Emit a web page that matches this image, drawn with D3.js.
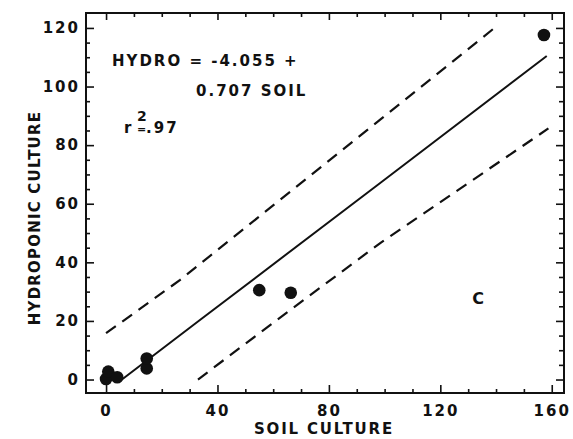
<!DOCTYPE html>
<html>
<head>
<meta charset="utf-8">
<script src="https://cdn.jsdelivr.net/npm/d3@7"></script>
<style>
  html, body { margin: 0; padding: 0; background: #fff; }
  svg text { font-family: "DejaVu Sans", "Liberation Sans", sans-serif; font-weight: bold; fill: #111; }
</style>
</head>
<body>
<svg id="chart" width="573" height="439"></svg>
<script>
// ---- data ----
const soil  = [0, 0.8, 4, 14.6, 14.6, 55, 66.3, 157.2];
const hydro = [0.2, 2.7, 0.8, 3.8, 7.2, 30.5, 29.6, 117.6];

const fitX = [5.7, 33.7, 98.3, 158.2];
const fitY = [0, 20.3, 67.0, 110.4];
const upperX = [0, 26.6, 98.3, 139.3];
const upperY = [15.8, 34.0, 88.6, 119.9];
const lowerX = [33, 61.3, 98.3, 158.8];
const lowerY = [0, 20.3, 46.5, 85.7];

const xMajor = [0, 40, 80, 120, 160];
const yMajor = [0, 20, 40, 60, 80, 100, 120];
const xMinor = [10, 20, 30, 50, 60, 70, 90, 100, 110, 130, 140, 150];
const yMinor = [5, 10, 15, 25, 30, 35, 45, 50, 55, 65, 70, 75, 85, 90, 95, 105, 110, 115];

const xTitle = "SOIL CULTURE";
const yTitle = "HYDROPONIC CULTURE";
const eqLine1 = "HYDRO = -4.055 +";
const eqLine2 = "0.707 SOIL";
const panelLabel = "C";

// ---- layout ----
const L = 86, R = 564, T = 13, B = 393;
const svg = d3.select("#chart");
const x = d3.scaleLinear().domain([-7.2, 164.4]).range([L, R]);
const y = d3.scaleLinear().domain([-4.6, 125.1]).range([B, T]);

const FS = 15, LS = "2px";

// frame
svg.append("rect").attr("x", L).attr("y", T).attr("width", R - L).attr("height", B - T)
  .attr("fill", "none").attr("stroke", "#111").attr("stroke-width", 2);

function styleAxis(g) {
  g.select(".domain").remove();
  g.selectAll(".tick line").attr("stroke", "#111").attr("stroke-width", 1.6);
  g.selectAll(".tick text").attr("font-size", FS).attr("letter-spacing", LS).attr("fill", "#111");
}

// left axis (ticks inward)
svg.append("g").attr("transform", `translate(${L},0)`)
  .call(d3.axisLeft(y).tickValues(yMajor).tickSizeInner(-8).tickSizeOuter(0).tickPadding(6).tickFormat(d3.format("d")))
  .call(styleAxis);
svg.append("g").attr("transform", `translate(${L},0)`)
  .call(d3.axisLeft(y).tickValues(yMinor).tickSizeInner(-4).tickSizeOuter(0).tickFormat(""))
  .call(styleAxis);

// bottom axis
svg.append("g").attr("transform", `translate(0,${B})`)
  .call(d3.axisBottom(x).tickValues(xMajor).tickSizeInner(-8).tickSizeOuter(0).tickPadding(12).tickFormat(d3.format("d")))
  .call(styleAxis);
svg.append("g").attr("transform", `translate(0,${B})`)
  .call(d3.axisBottom(x).tickValues(xMinor).tickSizeInner(-4).tickSizeOuter(0).tickFormat(""))
  .call(styleAxis);

// top axis
svg.append("g").attr("transform", `translate(0,${T})`)
  .call(d3.axisTop(x).tickValues(xMajor).tickSizeInner(-7).tickSizeOuter(0).tickFormat(""))
  .call(styleAxis);
svg.append("g").attr("transform", `translate(0,${T})`)
  .call(d3.axisTop(x).tickValues(xMinor).tickSizeInner(-4).tickSizeOuter(0).tickFormat(""))
  .call(styleAxis);

// right axis
svg.append("g").attr("transform", `translate(${R},0)`)
  .call(d3.axisRight(y).tickValues(yMajor).tickSizeInner(-8).tickSizeOuter(0).tickFormat(""))
  .call(styleAxis);
svg.append("g").attr("transform", `translate(${R},0)`)
  .call(d3.axisRight(y).tickValues(yMinor).tickSizeInner(-5).tickSizeOuter(0).tickFormat(""))
  .call(styleAxis);

// lines
const line = d3.line().x(d => x(d[0])).y(d => y(d[1]));
svg.append("path").datum(d3.zip(fitX, fitY)).attr("d", line)
  .attr("fill", "none").attr("stroke", "#111").attr("stroke-width", 2);
svg.append("path").datum(d3.zip(upperX, upperY)).attr("d", line)
  .attr("fill", "none").attr("stroke", "#111").attr("stroke-width", 2.2).attr("stroke-dasharray", "12,8");
svg.append("path").datum(d3.zip(lowerX, lowerY)).attr("d", line)
  .attr("fill", "none").attr("stroke", "#111").attr("stroke-width", 2.2).attr("stroke-dasharray", "12,8");

// points
svg.append("g").selectAll("circle").data(d3.zip(soil, hydro)).join("circle")
  .attr("cx", d => x(d[0])).attr("cy", d => y(d[1])).attr("r", 6.3).attr("fill", "#111");

// annotations
svg.append("text").attr("x", 112).attr("y", 66).attr("font-size", FS).attr("letter-spacing", LS).text(eqLine1);
svg.append("text").attr("x", 196).attr("y", 96).attr("font-size", FS).attr("letter-spacing", LS).text(eqLine2);
svg.append("text").attr("x", 124).attr("y", 133).attr("font-size", FS).text("r");
svg.append("text").attr("x", 137).attr("y", 121).attr("font-size", 14).text("2");
svg.append("text").attr("x", 137).attr("y", 133).attr("font-size", 11).text("=");
svg.append("text").attr("x", 146).attr("y", 133).attr("font-size", FS).attr("letter-spacing", LS).text(".97");
svg.append("text").attr("x", 478).attr("y", 304).attr("font-size", 16).attr("text-anchor", "middle").text(panelLabel);

// axis titles
svg.append("text").attr("x", 324).attr("y", 434).attr("font-size", FS).attr("letter-spacing", "1.8px")
  .attr("text-anchor", "middle").text(xTitle);
svg.append("text").attr("transform", "translate(40,218) rotate(-90)").attr("font-size", FS)
  .attr("letter-spacing", "1.2px").attr("text-anchor", "middle").text(yTitle);
</script>
</body>
</html>
